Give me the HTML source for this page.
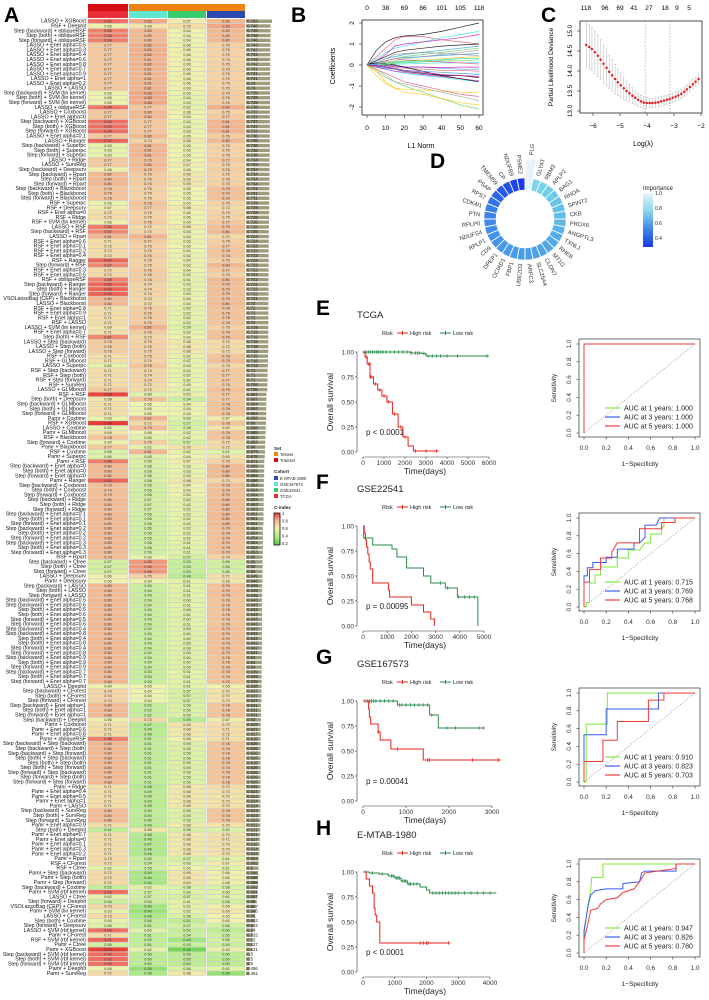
<!DOCTYPE html>
<html><head><meta charset="utf-8"><style>
html,body{margin:0;padding:0;background:#fff;}
svg{display:block;font-family:"Liberation Sans",sans-serif;}
</style></head><body>
<svg id="fig" width="709" height="1000" viewBox="0 0 709 1000" xmlns="http://www.w3.org/2000/svg">
<rect x="0" y="0" width="709" height="1000" fill="#fff"/>
<text x="4" y="22" font-size="21" font-weight="bold">A</text>
<text x="291" y="22" font-size="21" font-weight="bold">B</text>
<text x="541" y="22" font-size="21" font-weight="bold">C</text>
<text x="430" y="168" font-size="21" font-weight="bold">D</text>
</svg>
<script>
// ---------- Panel A data ----------
const modelNames=["LASSO + XGBoost","RSF + Deephit","Step (backward) + obliqueRSF","Step (both) + obliqueRSF","Step (forward) + obliqueRSF","LASSO + Enet alpha=0.5","LASSO + Enet alpha=0.3","LASSO + Enet alpha=0.4","LASSO + Enet alpha=0.6","LASSO + Enet alpha=0.8",
"LASSO + Enet alpha=0.7","LASSO + Enet alpha=0.9","LASSO + Enet alpha=1","LASSO + Enet alpha=0.2","LASSO + LASSO","Step (backward) + SVM (lin kernel)","Step (both) + SVM (lin kernel)","Step (forward) + SVM (lin kernel)","LASSO + obliqueRSF","LASSO + Coxboost",
"LASSO + Enet alpha=0","Step (backward) + XGBoost","Step (both) + XGBoost","Step (forward) + XGBoost","LASSO + Enet alpha=0.1","LASSO + Ranger","Step (backward) + Superpc","Step (both) + Superpc","Step (forward) + Superpc","LASSO + Ridge",
"LASSO + SurvReg","Step (backward) + Deepsurv","Step (backward) + Rpart","Step (both) + Rpart","Step (forward) + Rpart","Step (backward) + Blackboost","Step (both) + Blackboost","Step (forward) + Blackboost","RSF + Superpc","RSF + Deepsurv",
"RSF + Enet alpha=0","RSF + Ridge","RSF + SVM (lin kernel)","LASSO + RSF","Step (backward) + RSF","LASSO + Rpart","RSF + Enet alpha=0.6","RSF + Enet alpha=0.1","RSF + Enet alpha=0.2","RSF + Enet alpha=0.4",
"RSF + Ranger","Step (forward) + RSF","RSF + Enet alpha=0.3","RSF + Enet alpha=0.5","RSF + obliqueRSF","Step (backward) + Ranger","Step (both) + Ranger","Step (forward) + Ranger","VSOLassoBag (CEP) + Blackboost","LASSO + Blackboost",
"RSF + Enet alpha=0.8","RSF + Enet alpha=0.9","RSF + Enet alpha=1","RSF + LASSO","LASSO + SVM (lin kernel)","RSF + Enet alpha=0.7","Step (both) + RSF","LASSO + Step (backward)","LASSO + Step (both)","LASSO + Step (forward)",
"RSF + Coxboost","RSF + GLMboost","LASSO + Superpc","RSF + Step (backward)","RSF + Step (both)","RSF + Step (forward)","RSF + SurvReg","LASSO + GLMboost","RSF + RSF","Step (both) + Deepsurv",
"Step (backward) + GLMboost","Step (both) + GLMboost","Step (forward) + GLMboost","Pamr + Coxtime","RSF + XGBoost","LASSO + Coxtime","Pamr + GLMboost","RSF + Blackboost","Step (forward) + Coxtime","Pamr + Blackboost",
"RSF + Coxtime","Pamr + Superpc","Pamr + RSF","Step (backward) + Enet alpha=0","Step (both) + Enet alpha=0","Step (forward) + Enet alpha=0","Pamr + Ranger","Step (backward) + Coxboost","Step (both) + Coxboost","Step (forward) + Coxboost",
"Step (backward) + Ridge","Step (both) + Ridge","Step (forward) + Ridge","Step (backward) + Enet alpha=0.1","Step (both) + Enet alpha=0.1","Step (forward) + Enet alpha=0.1","Step (backward) + Enet alpha=0.2","Step (both) + Enet alpha=0.2","Step (forward) + Enet alpha=0.2","Step (backward) + Enet alpha=0.3",
"Step (both) + Enet alpha=0.3","Step (forward) + Enet alpha=0.3","RSF + Rpart","Step (backward) + Ctree","Step (both) + Ctree","Step (forward) + Ctree","LASSO + Deepsurv","Pamr + Deepsurv","Step (backward) + LASSO","Step (both) + LASSO",
"Step (forward) + LASSO","Step (backward) + Enet alpha=0.5","Step (backward) + Enet alpha=0.6","Step (both) + Enet alpha=0.5","Step (both) + Enet alpha=0.6","Step (forward) + Enet alpha=0.5","Step (forward) + Enet alpha=0.6","Step (backward) + Enet alpha=0.4","Step (backward) + Enet alpha=0.8","Step (both) + Enet alpha=0.4",
"Step (both) + Enet alpha=0.8","Step (forward) + Enet alpha=0.4","Step (forward) + Enet alpha=0.8","Step (backward) + Enet alpha=0.9","Step (both) + Enet alpha=0.9","Step (forward) + Enet alpha=0.9","Step (backward) + Enet alpha=0.7","Step (both) + Enet alpha=0.7","Step (forward) + Enet alpha=0.7","LASSO + Deephit",
"Step (backward) + CForest","Step (both) + CForest","Step (forward) + CForest","Step (backward) + Enet alpha=1","Step (both) + Enet alpha=1","Step (forward) + Enet alpha=1","Step (backward) + Deephit","Pamr + Coxboost","Pamr + Enet alpha=0.6","Pamr + Enet alpha=0.8",
"Pamr + obliqueRSF","Step (backward) + Step (backward)","Step (backward) + Step (both)","Step (backward) + Step (forward)","Step (both) + Step (backward)","Step (both) + Step (both)","Step (both) + Step (forward)","Step (forward) + Step (backward)","Step (forward) + Step (both)","Step (forward) + Step (forward)",
"Pamr + Ridge","Pamr + Enet alpha=0.4","Pamr + Enet alpha=0.5","Pamr + Enet alpha=1","Pamr + LASSO","Step (backward) + SurvReg","Step (both) + SurvReg","Step (forward) + SurvReg","Pamr + Enet alpha=0.9","Step (both) + Deephit",
"Pamr + Enet alpha=0.7","Pamr + Enet alpha=0","Pamr + Enet alpha=0.1","Pamr + Enet alpha=0.3","Pamr + Enet alpha=0.2","Pamr + Rpart","RSF + CForest","RSF + Ctree","Pamr + Step (backward)","Pamr + Step (both)",
"Pamr + Step (forward)","Step (backward) + Coxtime","Pamr + SVM (rbf kernel)","LASSO + Ctree","Step (forward) + Deephit","VSOLassoBag (CEP) + CForest","Pamr + SVM (lin kernel)","LASSO + CForest","Step (both) + Coxtime","Step (forward) + Deepsurv",
"LASSO + SVM (rbf kernel)","Pamr + CForest","RSF + SVM (rbf kernel)","Pamr + Ctree","Pamr + XGBoost","Step (backward) + SVM (rbf kernel)","Step (both) + SVM (rbf kernel)","Step (forward) + SVM (rbf kernel)","Pamr + Deephit","Pamr + SurvReg"];
const cTCGA=[.90,.66,.88,.88,.88,.77,.77,.77,.77,.77, .77,.77,.77,.77,.77,.65,.65,.65,.89,.77, .77,.90,.90,.90,.77,.92,.63,.63,.63,.77, .77,.66,.80,.80,.80,.78,.78,.78,.63,.67,
.72,.72,.66,.88,.87,.81,.71,.72,.72,.72, .92,.87,.72,.72,.88,.92,.92,.92,.80,.80, .71,.71,.71,.71,.69,.71,.87,.76,.76,.76, .71,.71,.62,.71,.71,.71,.71,.77,.98,.68,
.71,.71,.71,.63,1.00,.62,.69,.78,.64,.77, .58,.60,.88,.80,.80,.80,.92,.79,.79,.79, .80,.80,.80,.80,.80,.80,.80,.80,.80,.80, .80,.80,.79,.57,.57,.57,.66,.65,.80,.80,
.80,.80,.80,.80,.80,.80,.80,.80,.80,.80, .80,.80,.80,.80,.80,.80,.80,.80,.80,.64, .74,.74,.74,.80,.80,.80,.66,.71,.71,.71, .88,.80,.80,.80,.80,.80,.80,.80,.80,.80,
.71,.71,.71,.71,.71,.80,.80,.80,.71,.51, .71,.71,.71,.71,.71,.73,.72,.62,.72,.72, .72,.52,.90,.62,.54,.73,.63,.73,.63,.59, .90,.71,.91,.55,.99,.90,.90,.90,.65,.72];
const cGSE22541=[.83,.69,.80,.80,.80,.82,.82,.82,.81,.82, .81,.81,.81,.81,.81,.83,.83,.83,.77,.80, .80,.77,.77,.77,.80,.74,.81,.81,.81,.79, .80,.79,.76,.76,.76,.75,.75,.75,.78,.77,
.75,.75,.76,.72,.74,.81,.77,.75,.75,.76, .75,.75,.76,.76,.76,.74,.74,.74,.73,.72, .76,.76,.76,.76,.82,.76,.73,.75,.75,.75, .75,.74,.78,.74,.74,.74,.72,.72,.60,.78,
.65,.65,.65,.81,.72,.79,.65,.60,.76,.62, .81,.60,.59,.58,.58,.58,.58,.56,.56,.56, .57,.57,.57,.56,.56,.56,.55,.55,.55,.56, .56,.56,.63,.85,.85,.85,.75,.64,.54,.54,
.54,.54,.54,.54,.54,.54,.54,.54,.54,.54, .54,.54,.54,.54,.54,.54,.53,.53,.53,.65, .64,.64,.64,.52,.52,.52,.73,.47,.49,.49, .51,.51,.51,.51,.51,.51,.51,.51,.51,.51,
.48,.49,.49,.49,.49,.50,.50,.50,.49,.68, .48,.46,.47,.46,.46,.53,.54,.55,.44,.44, .44,.62,.57,.57,.54,.43,.40,.45,.50,.51, .60,.51,.50,.51,.62,.50,.50,.50,.39,.45];
const cGSE167573=[.67,.72,.64,.64,.64,.66,.66,.66,.66,.66, .66,.66,.66,.66,.66,.63,.63,.63,.62,.66, .64,.63,.63,.63,.65,.68,.65,.65,.65,.64, .67,.65,.69,.69,.69,.65,.65,.65,.65,.68,
.65,.65,.64,.68,.63,.64,.63,.65,.64,.62, .64,.62,.64,.63,.61,.63,.63,.63,.64,.64, .62,.62,.62,.62,.59,.62,.64,.68,.68,.68, .62,.62,.63,.62,.62,.62,.65,.61,.63,.54,
.64,.64,.64,.60,.57,.58,.62,.62,.57,.70, .62,.64,.67,.63,.63,.63,.68,.64,.64,.64, .62,.62,.62,.62,.62,.62,.62,.62,.62,.61, .61,.61,.57,.53,.53,.53,.49,.61,.61,.61,
.61,.60,.61,.60,.61,.60,.61,.60,.60,.60, .60,.60,.60,.60,.60,.60,.61,.61,.61,.61, .57,.57,.57,.59,.59,.59,.49,.69,.68,.68, .66,.59,.59,.59,.59,.59,.59,.59,.59,.59,
.68,.68,.68,.68,.68,.59,.59,.59,.68,.58, .68,.68,.68,.68,.68,.57,.60,.65,.69,.69, .69,.58,.60,.57,.61,.61,.62,.58,.51,.57, .52,.54,.43,.53,.31,.50,.50,.50,.58,.68];
const cEMTAB=[.80,.83,.80,.80,.80,.75,.75,.75,.75,.75, .75,.75,.75,.75,.75,.76,.76,.76,.82,.75, .77,.81,.81,.81,.76,.80,.75,.75,.75,.77, .75,.76,.75,.75,.75,.79,.79,.79,.75,.72,
.75,.75,.77,.79,.80,.72,.76,.77,.78,.78, .75,.80,.77,.75,.80,.79,.79,.79,.79,.80, .78,.78,.78,.78,.75,.78,.79,.72,.72,.72, .78,.79,.73,.77,.77,.77,.76,.79,.77,.77,
.78,.78,.78,.67,.78,.69,.78,.78,.72,.72, .61,.69,.75,.80,.80,.80,.73,.79,.79,.79, .80,.80,.80,.80,.80,.80,.79,.79,.79,.79, .79,.79,.74,.56,.56,.56,.71,.69,.79,.79,
.79,.78,.78,.78,.78,.78,.78,.79,.79,.79, .79,.79,.79,.78,.78,.78,.78,.78,.78,.65, .70,.70,.70,.78,.78,.78,.67,.72,.71,.72, .71,.78,.78,.78,.78,.78,.78,.78,.78,.78,
.72,.70,.70,.70,.70,.78,.78,.78,.70,.60, .70,.71,.70,.70,.70,.61,.67,.61,.66,.66, .66,.58,.60,.61,.55,.66,.69,.65,.65,.56, .50,.55,.56,.54,.63,.50,.50,.50,.61,.39];
const meanCindex=[.763,.746,.746,.746,.746,.743,.742,.742,.742,.742, .741,.741,.741,.740,.740,.739,.739,.739,.738,.737, .737,.737,.737,.737,.736,.736,.736,.736,.736,.734, .734,.734,.734,.734,.734,.731,.731,.731,.729,.729,
.728,.728,.726,.726,.725,.724,.724,.723,.723,.723, .723,.723,.722,.722,.722,.722,.722,.722,.721,.720, .720,.720,.720,.720,.719,.719,.719,.718,.718,.718, .715,.715,.712,.710,.710,.710,.708,.706,.697,.697,
.694,.694,.694,.693,.690,.688,.685,.683,.682,.680, .679,.676,.671,.669,.669,.669,.666,.664,.664,.664, .663,.663,.663,.661,.661,.661,.654,.654,.654,.653, .653,.653,.650,.650,.650,.650,.649,.648,.645,.645,
.645,.643,.643,.643,.643,.643,.643,.642,.642,.642, .642,.642,.641,.640,.640,.640,.639,.639,.639,.638, .637,.637,.637,.631,.631,.631,.630,.628,.627,.627, .626,.626,.626,.626,.626,.626,.626,.626,.626,.626,
.625,.624,.624,.624,.624,.623,.623,.623,.622,.621, .621,.617,.616,.614,.612,.604,.602,.600,.596,.596, .596,.593,.591,.587,.580,.567,.566,.560,.552,.544, .540,.532,.530,.527,.521,.500,.500,.500,.496,.491];
const cindexLegendTicks=["1","0.8","0.6","0.4","0.2"];

// ---------- Panel B data ----------
const l1Knots=[0,5,10,15,20,30,40,50,60];
const l1TopTicks=["0","38","69","86","101","105","118"];
const l1BottomTicks=[0,10,20,30,40,50,60];
const coefPaths=[
[0,0.7,1.1,1.3,1.38,1.45,1.6,1.8,2.0],[0,0.4,0.8,1.2,1.35,1.35,1.2,1.1,1.0],[0,-0.2,-0.5,-0.8,-1.0,-1.3,-1.6,-1.9,-2.1],[0,0.1,0.2,0.3,0.35,0.4,0.45,0.5,0.55],
[0,0.3,0.6,0.8,0.9,1.1,1.3,1.45,1.6],[0,0.2,0.5,0.9,1.0,1.1,1.2,1.3,1.45],[0,-0.5,-0.9,-1.1,-1.15,-1.2,-1.25,-1.3,-1.3],[0,-0.3,-0.6,-0.8,-0.9,-1.1,-1.3,-1.5,-1.7],
[0,0.2,0.4,0.6,0.7,0.8,0.9,0.95,1.0],[0,-0.2,-0.4,-0.6,-0.8,-1.0,-1.2,-1.4,-1.5],[0,0.1,0.2,0.3,0.4,0.5,0.6,0.7,0.8],[0,0.1,0.3,0.4,0.5,0.6,0.7,0.8,0.9],
[0,-0.1,-0.2,-0.3,-0.4,-0.5,-0.6,-0.7,-0.8],[0,-0.1,-0.2,-0.3,-0.35,-0.45,-0.55,-0.65,-0.75],[0,0.05,0.1,0.15,0.2,0.25,0.3,0.35,0.4],[0,0.05,0.15,0.2,0.3,0.4,0.5,0.6,0.7],
[0,-0.05,-0.1,-0.2,-0.3,-0.4,-0.5,-0.5,-0.6],[0,0,-0.05,-0.1,-0.15,-0.2,-0.25,-0.25,-0.3],[0,0,0.05,0.1,0.1,0.15,0.2,0.2,0.25],[0,0,-0.05,-0.05,-0.1,-0.1,-0.15,-0.2,-0.2],
[0,0,0.02,0.05,0.05,0.08,0.1,0.1,0.12],[0,0,-0.02,-0.05,-0.08,-0.1,-0.12,-0.1,-0.1],[0,-0.3,-0.8,-1.1,-1.3,-1.4,-1.6,-1.8,-1.9],[0,0.1,0.3,0.5,0.55,0.6,0.55,0.5,0.45],
[0,0.1,0.05,0,-0.1,-0.3,-0.5,-0.65,-0.8],[0,0.05,0.2,0.3,0.25,0.2,0.15,0.1,0.05],[0,-0.1,0,0.1,0.2,0.2,0.25,0.3,0.3],[0,-0.05,-0.15,-0.2,-0.25,-0.3,-0.35,-0.4,-0.45],
[0,0.05,0.1,0.15,0.15,0.2,0.25,0.3,0.3],[0,-0.05,-0.1,-0.15,-0.25,-0.35,-0.45,-0.5,-0.55]];

// ---------- Panel C data ----------
const logLambda=[-6.25,-6.14,-6.04,-5.93,-5.82,-5.72,-5.61,-5.50,-5.40,-5.29,-5.18,-5.08,-4.97,-4.86,-4.76,-4.65,-4.54,-4.44,-4.33,-4.22,-4.12,-4.01,-3.90,-3.80,-3.69,-3.58,-3.48,-3.37,-3.26,-3.16,-3.05,-2.94,-2.84,-2.73,-2.62,-2.52,-2.41,-2.30,-2.20,-2.09];
const devianceMean=[14.65,14.60,14.55,14.47,14.38,14.28,14.18,14.08,13.98,13.89,13.80,13.72,13.64,13.57,13.50,13.44,13.38,13.33,13.28,13.24,13.21,13.20,13.20,13.20,13.21,13.22,13.24,13.26,13.28,13.30,13.33,13.36,13.39,13.43,13.48,13.54,13.60,13.67,13.73,13.80];
const devianceSd=[0.55,0.55,0.54,0.53,0.52,0.50,0.48,0.45,0.42,0.40,0.37,0.34,0.31,0.28,0.25,0.22,0.20,0.18,0.16,0.15,0.14,0.13,0.12,0.12,0.12,0.12,0.12,0.12,0.12,0.12,0.12,0.12,0.12,0.12,0.12,0.12,0.12,0.12,0.12,0.12];
const cTopTickLabels=["118","96","69","41","27","18","9","5"];
const cTopTickPos=[-6.26,-5.56,-5.0,-4.48,-3.93,-3.33,-2.89,-2.44];
const lambdaMinMax=[-4.07,-3.15];

// ---------- Panel D data ----------
const genes=["PLG","GLYAT","RBM3","APLP2","BAG1","RHOA","SPINT2","CKB","PRDX6","ANGPTL3","TXNL1","RHEB","MT1G","CLDN7","SLC25A4","ARPC3","UBE2D3","FBP1","OCIAD1","DPEP1","CD9","RPLP1","NDUFS4","RPLP0","PTN","CDK4I1","RPS7","PSAP","TMEM59","CP","NDUFB9","PSME2"];
const importance=[1.0,0.75,0.74,0.72,0.70,0.68,0.66,0.65,0.64,0.62,0.60,0.59,0.58,0.57,0.56,0.55,0.55,0.54,0.53,0.53,0.52,0.51,0.50,0.49,0.47,0.45,0.42,0.38,0.35,0.33,0.31,0.28];
const importanceTicks=[1.0,0.8,0.6,0.4];

// ---------- KM / ROC data ----------
const kmTitles=["TCGA","GSE22541","GSE167573","E-MTAB-1980"];
const kmLetters=["E","F","G","H"];
const kmPvals=["p < 0.0001","p = 0.00095","p = 0.00041","p < 0.0001"];
const kmXmax=[6000,5000,3000,4000];
const kmXticks=[[0,1000,2000,3000,4000,5000,6000],[0,1000,2000,3000,4000,5000],[0,1000,2000,3000],[0,1000,2000,3000,4000]];
const kmHighT=[[0,100,200,333,500,700,900,1140,1400,1670,1900,2150,2400,3600],[0,50,100,150,200,250,300,400,1000,1050,1100,1900,2000,2500,2800,2950],[0,130,150,180,350,400,650,720,1400,3200],[0,100,200,300,350,380,430,530,2700]];
const kmHighS=[[1,.95,.88,.75,.68,.62,.56,.50,.38,.25,.15,.06,.01,.01],[1,.93,.86,.79,.72,.64,.57,.43,.43,.36,.29,.29,.21,.14,.07,0],[1,.92,.84,.77,.69,.61,.52,.52,.41,.41],[1,.93,.86,.79,.64,.57,.50,.29,.29]];
const kmLowT=[[0,1200,2300,2800,3000,6000],[0,30,400,1000,1200,1400,1800,2500,2800,3400,3900,4750],[0,800,1550,1750,2800],[0,200,500,800,1000,1200,1400,1800,2000,2100,4200]];
const kmLowS=[[1,1,.99,.985,.96,.96],[1,.88,.81,.81,.77,.69,.58,.50,.43,.38,.29,0],[1,.96,.86,.73,.73],[1,.99,.98,.96,.94,.91,.88,.85,.82,.79,.79]];
const kmHighCens=[[150,280,320,360,420,600,800,1000,1200,1500,1800,2000,2500,3000,3500],[],[360,800,1500,1550,2550,3150],[1800,1900,2000,2050,2700]];
const kmLowCens=[[50,150,250,350,450,550,650,750,850,950,1100,1300,1500,1700,1900,2100,2300,2500,2600,2700,2900,3100,3300,3500,3700,4000,4500,5900],[3200,3500,3950,4200,4400,4600],[50,100,150,200,250,300,400,500,600,700,850,900,1000,1100,1200,1300,1400,1500,1600,1950,2150,2700,2800],[100,300,600,900,950,1050,1100,1150,1250,1300,1350,1450,1500,1600,1700,2200,2300,2400,2500,2600,2700,2800,2900,3000,3200,3400,3600,3800,4000]];
const rocAuc=[["1.000","1.000","1.000"],["0.715","0.769","0.768"],["0.910","0.823","0.703"],["0.947","0.826","0.780"]];
const rocYear1=[[[0,0],[0,1],[1,1]],[[0,0],[.02,0],[.02,.05],[.05,.05],[.05,.27],[.1,.27],[.1,.36],[.15,.36],[.15,.45],[.3,.45],[.3,.55],[.4,.55],[.4,.64],[.5,.64],[.55,.72],[.6,.72],[.6,.82],[.7,.82],[.7,.9],[.72,.9],[.72,1],[1,1]],[[0,0],[.02,0],[.02,.65],[.21,.65],[.21,1],[1,1]],[[0,0],[0,.2],[.02,.4],[.04,.57],[.06,.7],[.07,.85],[.17,.85],[.17,1],[1,1]]];
const rocYear3=[[[0,0],[0,1],[1,1]],[[0,0],[0,.35],[.03,.35],[.03,.44],[.08,.44],[.08,.5],[.2,.5],[.2,.56],[.3,.56],[.3,.65],[.45,.65],[.45,.72],[.5,.72],[.55,.78],[.55,.92],[.65,.92],[.68,1],[1,1]],[[0,0],[0,.53],[.2,.53],[.2,.82],[.67,.82],[.67,1],[1,1]],[[0,0],[0,.25],[.02,.4],[.04,.55],[.06,.65],[.1,.7],[.2,.72],[.35,.72],[.35,.78],[.5,.8],[.52,.9],[.55,.92],[.83,.92],[.83,1],[1,1]]];
const rocYear5=[[[0,0],[0,1],[1,1]],[[0,0],[0,.28],[.05,.28],[.05,.42],[.15,.42],[.15,.55],[.25,.55],[.25,.62],[.3,.72],[.5,.72],[.5,.88],[.7,.88],[.7,.95],[.82,.95],[.82,1],[1,1]],[[0,0],[0,.23],[.17,.23],[.17,.47],[.3,.47],[.3,.68],[.58,.68],[.58,.92],[.72,.92],[.72,1],[1,1]],[[0,0],[0,.15],[.03,.3],[.06,.48],[.12,.5],[.15,.55],[.2,.6],[.3,.62],[.35,.68],[.45,.72],[.5,.8],[.55,.9],[.83,.95],[.83,1],[1,1]]];
const rocTicks=["0.0","0.2","0.4","0.6","0.8","1.0"];
const sectionTop=[313,487,662,833];

// ---------- helpers ----------
const NS="http://www.w3.org/2000/svg";
const svg=document.getElementById("fig");
function mk(tag,attrs,parent){const e=document.createElementNS(NS,tag);for(const k in attrs)e.setAttribute(k,attrs[k]);(parent||svg).appendChild(e);return e;}
function tx(str,x,y,size,extra,parent){const a=Object.assign({x:x,y:y,"font-size":size},extra||{});const e=mk("text",a,parent);e.textContent=str;return e;}
function rgbStr(c){return "rgb("+c.join(",")+")";}
function lerpColor(stops,v){if(v<=stops[0][0])return rgbStr(stops[0][1]);for(let i=1;i<stops.length;i++){if(v<=stops[i][0]){const a=stops[i-1],b=stops[i],t=(v-a[0])/(b[0]-a[0]);const c=a[1].map((x,j)=>Math.round(x+(b[1][j]-x)*t));return rgbStr(c);}}return rgbStr(stops[stops.length-1][1]);}
const heatStops=[[0.3,[110,215,80]],[0.45,[170,235,130]],[0.55,[205,242,155]],[0.65,[240,243,170]],[0.75,[248,210,160]],[0.82,[245,175,135]],[0.9,[240,110,95]],[1.0,[230,60,50]]];
const impStops=[[0.28,[26,58,232]],[0.4,[47,110,232]],[0.55,[74,158,232]],[0.7,[108,203,230]],[0.85,[168,226,240]],[1.0,[232,244,251]]];

// ---------- Panel A ----------
const gA=mk("g",{});


const colX=[88,129,168,207], colW=[40,38,38,38];
const hdr1=["#d40d12","#f0820f","#f0820f","#f0820f"], hdr2=["#e8303a","#5ee8d0","#3acb6e","#2a4ab0"];
for(let c=0;c<4;c++){
  const h1=mk("rect",{x:colX[c],y:4,width:colW[c]+(c>0&&c<3?1:0),height:7,fill:hdr1[c]},gA);
  
  
  const h2=mk("rect",{x:colX[c],y:11,width:colW[c],height:7,fill:hdr2[c]},gA);
  
  
}
const rowY0=18.8, rowH=4.785;
const cols=[cTCGA,cGSE22541,cGSE167573,cEMTAB];
const nRows=modelNames.length;
const cMax=Math.max(...meanCindex), cMin=0.45;
for(let r=0;r<nRows;r++){
  const y=rowY0+r*rowH;
  const lab=tx(modelNames[r],86,y+rowH-0.9,5.3,{"text-anchor":"end",fill:"#111"},gA);
  
  
  for(let c=0;c<4;c++){
    const v=cols[c][r];
    const cell=mk("rect",{x:colX[c],y:y+0.25,width:colW[c],height:rowH-0.5,fill:lerpColor(heatStops,v),stroke:"#c4c4c4","stroke-width":0.35},gA);
    
    
    const ct=tx(v.toFixed(2),colX[c]+colW[c]/2,y+rowH-1.1,3.8,{"text-anchor":"middle",fill:"#333"},gA);
    
    
  }
  const cv=meanCindex[r];
  const bw=Math.max(0.5,(cv-cMin)/(cMax-cMin)*26);
  const bar=mk("rect",{x:246,y:y+0.7,width:bw,height:rowH-1.4,fill:"#9d9d7e"},gA);
  
  
  const bt=tx(String(+cv.toFixed(3)),247,y+rowH-1.0,4.3,{fill:"#111"},gA);
  
  
}
// Legend
const lg=mk("g",{},gA);


const lgItems=[["Set",450,null],["Testset",456,"#f0820f"],["Trainset",462,"#d40d12"],["Cohort",473,null],["E-MTAB-1980",480,"#2a4ab0"],["GSE167573",486,"#5ee8d0"],["GSE22541",492,"#3acb6e"],["TCGA",498,"#e8303a"],["C-index",509,null]];
lgItems.forEach(it=>{
  if(it[2]){const s=mk("rect",{x:274,y:it[1]-4,width:4,height:4,fill:it[2]},lg);
    
    
    const t=tx(it[0],280,it[1],4.2,{fill:"#222"},lg);
    
    }
  else{const t=tx(it[0],274,it[1],4.6,{fill:"#222","font-weight":"bold"},lg);
    
    }
});
const defs=mk("defs",{});
const lgr=mk("linearGradient",{id:"cgrad",x1:0,y1:0,x2:0,y2:1},defs);
[[0,"rgb(230,60,50)"],[0.25,"rgb(248,190,150)"],[0.5,"rgb(240,243,170)"],[0.75,"rgb(170,235,130)"],[1,"rgb(80,200,60)"]].forEach(s=>mk("stop",{offset:s[0],"stop-color":s[1]},lgr));
const cbar=mk("rect",{x:274,y:513,width:6,height:32,fill:"url(#cgrad)",stroke:"#111","stroke-width":0.8},lg);


cindexLegendTicks.forEach((s,i)=>{const t=tx(s,282,515+i*7.5,4.2,{fill:"#222"},lg);
  
  });

// ---------- Panel B ----------
const gB=mk("g",{});


const bx=v=>367+v*(112/60), by=v=>65-v*21;
const pal=["#000000","#df536b","#61d04f","#2297e6","#28e2e5","#cd0bbc","#f5c710","#9e9e9e"];
coefPaths.forEach((p,i)=>{
  const d=p.map((v,j)=>(j?"L":"M")+bx(l1Knots[j]).toFixed(1)+","+by(v).toFixed(1)).join("");
  const pl=mk("path",{d:d,fill:"none",stroke:pal[i%8],"stroke-width":0.7,opacity:0.85},gB);
  
  
});
const bBox=mk("rect",{x:362,y:20,width:121,height:95,fill:"none",stroke:"#222","stroke-width":0.8},gB);


l1BottomTicks.forEach((v,i)=>{
  const tk=mk("line",{x1:bx(v),x2:bx(v),y1:115,y2:118,stroke:"#222","stroke-width":0.6},gB);
  
  
  const tl=tx(String(v),bx(v),130,6.5,{"text-anchor":"middle"},gB);
  
  
  const tt=tx(l1TopTicks[i],bx(v),10,6.5,{"text-anchor":"middle"},gB);
  
  
});
[-2,-1,0,1,2].forEach(v=>{
  const tk=mk("line",{x1:359,x2:362,y1:by(v),y2:by(v),stroke:"#222","stroke-width":0.6},gB);
  
  
  const tl=tx(String(v),354,by(v),6.5,{"text-anchor":"middle",transform:"rotate(-90 354 "+by(v)+")"},gB);
  
  
});
const bXt=tx("L1 Norm",421,148,7,{"text-anchor":"middle"},gB);


const bYt=tx("Coefficients",335,66,7,{"text-anchor":"middle",transform:"rotate(-90 335 66)"},gB);



// ---------- Panel C ----------
const gC=mk("g",{});


const cx_=v=>593+(v+6)*27, cy_=v=>31+(15-v)*40;
logLambda.forEach((l,i)=>{
  const m=devianceMean[i], s=devianceSd[i];
  const eb=mk("path",{d:"M"+cx_(l)+","+cy_(m+s)+"V"+cy_(m-s)+"M"+(cx_(l)-1)+","+cy_(m+s)+"h2M"+(cx_(l)-1)+","+cy_(m-s)+"h2",stroke:"#b4b4b4","stroke-width":0.5,fill:"none"},gC);
  
  
});
lambdaMinMax.forEach(l=>{
  const vl=mk("line",{x1:cx_(l),x2:cx_(l),y1:21,y2:113,stroke:"#777","stroke-width":0.5,"stroke-dasharray":"1.5,1.5"},gC);
  
  
});
logLambda.forEach((l,i)=>{
  const pt=mk("circle",{cx:cx_(l),cy:cy_(devianceMean[i]),r:1.25,fill:"#e8201c"},gC);
  
  
});
const cBox=mk("rect",{x:580,y:21,width:122,height:92,fill:"none",stroke:"#222","stroke-width":0.8},gC);


[-6,-5,-4,-3,-2].forEach(v=>{
  const tk=mk("line",{x1:cx_(v),x2:cx_(v),y1:113,y2:116,stroke:"#222","stroke-width":0.6},gC);
  
  
  const tl=tx(String(v).replace("-","\u2212"),cx_(v),128,6.5,{"text-anchor":"middle"},gC);
  
  
});
[13.0,13.5,14.0,14.5,15.0].forEach(v=>{
  const tk=mk("line",{x1:577,x2:580,y1:cy_(v),y2:cy_(v),stroke:"#222","stroke-width":0.6},gC);
  
  
  const tl=tx(v.toFixed(1),572,cy_(v),6.3,{"text-anchor":"middle",transform:"rotate(-90 572 "+cy_(v)+")"},gC);
  
  
});
cTopTickLabels.forEach((s,i)=>{
  const tl=tx(s,cx_(cTopTickPos[i]),10,6.5,{"text-anchor":"middle"},gC);
  
  
});
const cXt=tx("Log(\u03bb)",643,146,7,{"text-anchor":"middle"},gC);


const cYt=tx("Partial Likelihood Deviance",553,67,6.5,{"text-anchor":"middle",transform:"rotate(-90 553 67)"},gC);



// ---------- Panel D ----------
const gD=mk("g",{});


const dcx=525, dcy=219, rIn=29;
const seg=360/genes.length;
function pol(r,a){const t=a*Math.PI/180;return [dcx+r*Math.sin(t),dcy-r*Math.cos(t)];}
genes.forEach((g,i)=>{
  const imp=importance[i];
  const rOut=rIn+12+Math.max(0,imp-0.8)*95;
  const a0=i*seg+0.4, a1=(i+1)*seg-0.4;
  const p1=pol(rIn,a0),p2=pol(rOut,a0),p3=pol(rOut,a1),p4=pol(rIn,a1);
  const d="M"+p1+"L"+p2+"A"+rOut+","+rOut+" 0 0 1 "+p3+"L"+p4+"A"+rIn+","+rIn+" 0 0 0 "+p1+"Z";
  const b=mk("path",{d:d,fill:lerpColor(impStops,imp),stroke:"#fff","stroke-width":0.5},gD);
  
  
  const am=(i+0.5)*seg;
  const lp=pol(rOut+4,am);
  const right=am<180;
  const rot=right?am-90:am+90;
  const t=tx(g,lp[0],lp[1]+1.8,5.8,{"text-anchor":right?"start":"end",fill:"#333",transform:"rotate("+rot.toFixed(1)+" "+lp[0].toFixed(1)+" "+lp[1].toFixed(1)+")"},gD);
  
  
});
const igr=mk("linearGradient",{id:"igrad",x1:0,y1:0,x2:0,y2:1},defs);
[[0,"rgb(232,244,251)"],[0.33,"rgb(140,215,235)"],[0.67,"rgb(60,135,232)"],[1,"rgb(26,58,232)"]].forEach(s=>mk("stop",{offset:s[0],"stop-color":s[1]},igr));
const ilT=tx("Importance",643,190,6,{fill:"#222"},gD);


const ilB=mk("rect",{x:643,y:193,width:10,height:54,fill:"url(#igrad)"},gD);


importanceTicks.forEach(v=>{
  const yy=193+(1-v)/(1-0.28)*54;
  const t=tx(v.toFixed(1),655,yy+2,5,{fill:"#222"},gD);
  
  
});

// ---------- Panels E-H ----------
const kmRed="#e8201c", kmGreen="#2a8a4a";
for(let k=0;k<4;k++){
  const T=sectionTop[k];
  const g=mk("g",{});
  
  
  const L=tx(kmLetters[k],316,T+2,21,{"font-weight":"bold"},g);
  
  
  const ti=tx(kmTitles[k],357,T+5,9.5,{fill:"#222"},g);
  
  
  const ly=T+20;
  const rl=tx("Risk",382,ly+2,5.5,{fill:"#222"},g);
  
  
  [["High risk",kmRed,397],["Low risk",kmGreen,440]].forEach(e=>{
    const ln=mk("path",{d:"M"+e[2]+","+ly+"h11M"+(e[2]+5.5)+","+(ly-2)+"v4",stroke:e[1],"stroke-width":1},g);
    
    
    const lt=tx(e[0],e[2]+13,ly+2,5.5,{fill:"#222"},g);
    
    
  });
  const x0=363, xEnd=[489,484,492,490][k], xs=t=>x0+t*(xEnd-x0)/kmXmax[k];
  const ys=s=>T+139-s*100;
  const yax=mk("line",{x1:357,x2:357,y1:ys(1),y2:ys(0),stroke:"#333","stroke-width":0.6},g);
  
  
  [0,0.25,0.5,0.75,1].forEach(v=>{
    const tk=mk("line",{x1:355,x2:357,y1:ys(v),y2:ys(v),stroke:"#333","stroke-width":0.6},g);
    
    
    const tl=tx(v.toFixed(2),354,ys(v)+2.3,6.5,{"text-anchor":"end",fill:"#333"},g);
    
    
  });
  const xax=mk("line",{x1:xs(0),x2:xs(kmXmax[k]),y1:T+144,y2:T+144,stroke:"#333","stroke-width":0.6},g);
  
  
  kmXticks[k].forEach(v=>{
    const tk=mk("line",{x1:xs(v),x2:xs(v),y1:T+144,y2:T+146,stroke:"#333","stroke-width":0.6},g);
    
    
    const tl=tx(String(v),xs(v),T+152,6.5,{"text-anchor":"middle",fill:"#333"},g);
    
    
  });
  const xt=tx("Time(days)",425,T+161,8.5,{"text-anchor":"middle",fill:"#222"},g);
  
  
  const yt=tx("Overall survival",333,T+89,8.5,{"text-anchor":"middle",fill:"#222",transform:"rotate(-90 333 "+(T+89)+")"},g);
  
  
  function stepPath(ts,ss){let d="M"+xs(ts[0])+","+ys(ss[0]);for(let i=1;i<ts.length;i++){d+="H"+xs(ts[i]).toFixed(1)+"V"+ys(ss[i]).toFixed(1);}return d;}
  function survAt(ts,ss,t){let s=ss[0];for(let i=0;i<ts.length;i++){if(ts[i]<=t)s=ss[i];}return s;}
  [[kmLowT[k],kmLowS[k],kmLowCens[k],kmGreen,"low-risk"],[kmHighT[k],kmHighS[k],kmHighCens[k],kmRed,"high-risk"]].forEach(gr=>{
    const p=mk("path",{d:stepPath(gr[0],gr[1]),fill:"none",stroke:gr[3],"stroke-width":1},g);
    
    
    gr[2].forEach(t=>{
      const yy=ys(survAt(gr[0],gr[1],t)), xx=xs(t);
      const c=mk("path",{d:"M"+xx+","+(yy-1.8)+"v3.6M"+(xx-1.5)+","+yy+"h3",stroke:gr[3],"stroke-width":0.8},g);
      
      
    });
  });
  const pv=tx(kmPvals[k],366,ys(0.2)+3,8,{fill:"#222"},g);
  
  
  const rx=v=>584+v*111, ry=v=>T+120-v*89;
  const rb=mk("rect",{x:579,y:T+26,width:121,height:98,fill:"none",stroke:"#333","stroke-width":0.7},g);
  
  
  const diag=mk("line",{x1:rx(0),y1:ry(0),x2:rx(1),y2:ry(1),stroke:"#555","stroke-width":0.5,"stroke-dasharray":"1.5,1.5"},g);
  
  
  rocTicks.forEach((s,i)=>{
    const v=i*0.2;
    const tk=mk("line",{x1:rx(v),x2:rx(v),y1:T+124,y2:T+126.5,stroke:"#333","stroke-width":0.6},g);
    
    
    const tl=tx(s,rx(v),T+137,6.5,{"text-anchor":"middle",fill:"#333"},g);
    
    
    const ty=mk("line",{x1:576.5,x2:579,y1:ry(v),y2:ry(v),stroke:"#333","stroke-width":0.6},g);
    
    
    const yl=tx(s,571,ry(v),6.3,{"text-anchor":"middle",fill:"#333",transform:"rotate(-90 571 "+ry(v)+")"},g);
    
    
  });
  const sx=tx("1\u2212Specificity",640,T+153,6.5,{"text-anchor":"middle",fill:"#222"},g);
  
  
  const sy=tx("Sensitivity",556,T+75,6.3,{"text-anchor":"middle",fill:"#222",transform:"rotate(-90 556 "+(T+75)+")"},g);
  
  
  const rocCols=["#7ee83a","#3a5cf0","#f03a3a"], rocSets=[rocYear1[k],rocYear3[k],rocYear5[k]], yrs=["1","3","5"];
  rocSets.forEach((pts,j)=>{
    const d=pts.map((p,i)=>(i?"L":"M")+rx(p[0]).toFixed(1)+","+ry(p[1]).toFixed(1)).join("");
    const pl=mk("path",{d:d,fill:"none",stroke:rocCols[j],"stroke-width":1},g);
    
    
    const yy=T+95+j*9;
    const ll=mk("line",{x1:605,x2:620,y1:yy,y2:yy,stroke:rocCols[j],"stroke-width":1.2},g);
    
    
    const lt=tx("AUC at "+yrs[j]+" years: "+rocAuc[k][j],624,yy+2.5,7,{fill:"#222"},g);
    
    
  });
}
</script>
</body></html>
